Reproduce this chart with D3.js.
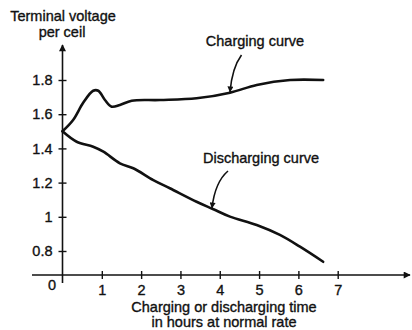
<!DOCTYPE html>
<html>
<head>
<meta charset="utf-8">
<script src="https://cdn.jsdelivr.net/npm/d3@7"></script>
<style>
  html, body { margin: 0; padding: 0; background: #fff; }
  svg { display: block; }
  text { font-family: "Liberation Sans", Arial, sans-serif; fill: #111; stroke: #111; stroke-width: 0.35px; }
</style>
</head>
<body>
<svg id="chart" width="412" height="330"></svg>
<script>
// Charging curve: hours vs terminal voltage per cell
const chargeHours = [0, 0.27, 0.53, 0.78, 0.91, 1.08, 1.25, 1.46, 1.76, 2.48, 3.41, 4.26, 4.94, 5.79, 6.63];
const chargeVolts = [1.5, 1.566, 1.668, 1.737, 1.737, 1.683, 1.644, 1.654, 1.679, 1.683, 1.693, 1.726, 1.771, 1.80, 1.80];

// Discharging curve
const dischargeHours = [0, 0.36, 0.78, 1.04, 1.46, 1.80, 2.31, 2.73, 3.41, 3.84, 4.26, 4.94, 5.53, 6.04, 6.63];
const dischargeVolts = [1.5, 1.439, 1.41, 1.381, 1.313, 1.284, 1.215, 1.167, 1.088, 1.044, 1.001, 0.952, 0.894, 0.825, 0.737];

// Axis ticks
const xTicks = [1, 2, 3, 4, 5, 6, 7];
const yTicks = [0.8, 1, 1.2, 1.4, 1.6, 1.8];

const FONT = 14.5;
const svg = d3.select("#chart");

const x = d3.scaleLinear().domain([0, 7]).range([62.5, 337.7]);
const y = d3.scaleLinear().domain([0.8, 1.8]).range([251, 80]);
const originY = 275;

// arrowhead markers
const defs = svg.append("defs");
defs.append("marker")
  .attr("id", "axisArrow")
  .attr("viewBox", "0 0 10 10")
  .attr("refX", 9).attr("refY", 5)
  .attr("markerWidth", 10).attr("markerHeight", 7)
  .attr("markerUnits", "userSpaceOnUse")
  .attr("orient", "auto")
  .append("path").attr("d", "M0,0 L10,5 L0,10 Z").attr("fill", "#111");
defs.append("marker")
  .attr("id", "noteArrow")
  .attr("viewBox", "0 0 10 10")
  .attr("refX", 9).attr("refY", 5)
  .attr("markerWidth", 11).attr("markerHeight", 6)
  .attr("markerUnits", "userSpaceOnUse")
  .attr("orient", "auto")
  .append("path").attr("d", "M0,0 L10,5 L0,10 Z").attr("fill", "#111");

// axis lines
svg.append("line")
  .attr("x1", 32).attr("x2", 410)
  .attr("y1", originY).attr("y2", originY)
  .attr("stroke", "#111").attr("stroke-width", 1.6)
  .attr("marker-end", "url(#axisArrow)");
svg.append("line")
  .attr("x1", x(0)).attr("x2", x(0))
  .attr("y1", 283).attr("y2", 45)
  .attr("stroke", "#111").attr("stroke-width", 1.6)
  .attr("marker-end", "url(#axisArrow)");

// y axis ticks and labels
const yAxis = svg.append("g")
  .attr("transform", `translate(${x(0)},0)`)
  .call(d3.axisLeft(y).tickValues(yTicks).tickSize(4).tickPadding(6).tickFormat(d => String(d)));
yAxis.select(".domain").remove();
yAxis.selectAll(".tick line").attr("x1", -4).attr("x2", 4).attr("stroke", "#111").attr("stroke-width", 1.4);
yAxis.selectAll(".tick text").attr("font-size", FONT).attr("fill", "#111");

// x axis ticks and labels
const xAxis = svg.append("g")
  .attr("transform", `translate(0,${originY})`)
  .call(d3.axisBottom(x).tickValues(xTicks).tickSize(4).tickPadding(6).tickFormat(d => String(d)));
xAxis.select(".domain").remove();
xAxis.selectAll(".tick line").attr("y1", -4).attr("y2", 4).attr("stroke", "#111").attr("stroke-width", 1.4);
xAxis.selectAll(".tick text").attr("font-size", FONT).attr("fill", "#111");

// origin label
svg.append("text")
  .attr("x", 52).attr("y", 290)
  .attr("text-anchor", "middle").attr("font-size", FONT)
  .text("0");

// curves
const line = d3.line()
  .x(d => x(d[0]))
  .y(d => y(d[1]))
  .curve(d3.curveCatmullRom.alpha(0.5));

svg.append("path")
  .datum(chargeHours.map((h, i) => [h, chargeVolts[i]]))
  .attr("d", line)
  .attr("fill", "none").attr("stroke", "#111").attr("stroke-width", 2.6)
  .attr("stroke-linecap", "round");

svg.append("path")
  .datum(dischargeHours.map((h, i) => [h, dischargeVolts[i]]))
  .attr("d", line)
  .attr("fill", "none").attr("stroke", "#111").attr("stroke-width", 2.6)
  .attr("stroke-linecap", "round");

// axis titles
svg.append("text")
  .attr("x", 63).attr("y", 21)
  .attr("text-anchor", "middle").attr("font-size", FONT)
  .text("Terminal voltage");
svg.append("text")
  .attr("x", 62).attr("y", 37)
  .attr("text-anchor", "middle").attr("font-size", FONT)
  .text("per ceil");

svg.append("text")
  .attr("x", 224).attr("y", 312)
  .attr("text-anchor", "middle").attr("font-size", FONT)
  .text("Charging or discharging time");
svg.append("text")
  .attr("x", 224).attr("y", 327)
  .attr("text-anchor", "middle").attr("font-size", FONT)
  .text("in hours at normal rate");

// curve annotations
svg.append("text")
  .attr("x", 255).attr("y", 46)
  .attr("text-anchor", "middle").attr("font-size", FONT)
  .text("Charging curve");
svg.append("path")
  .attr("d", "M241.5,55 Q232,68 230,92")
  .attr("fill", "none").attr("stroke", "#111").attr("stroke-width", 1.6)
  .attr("marker-end", "url(#noteArrow)");

svg.append("text")
  .attr("x", 261).attr("y", 163)
  .attr("text-anchor", "middle").attr("font-size", FONT)
  .text("Discharging curve");
svg.append("path")
  .attr("d", "M228,171 Q215,182 212,208")
  .attr("fill", "none").attr("stroke", "#111").attr("stroke-width", 1.6)
  .attr("marker-end", "url(#noteArrow)");
</script>
</body>
</html>
